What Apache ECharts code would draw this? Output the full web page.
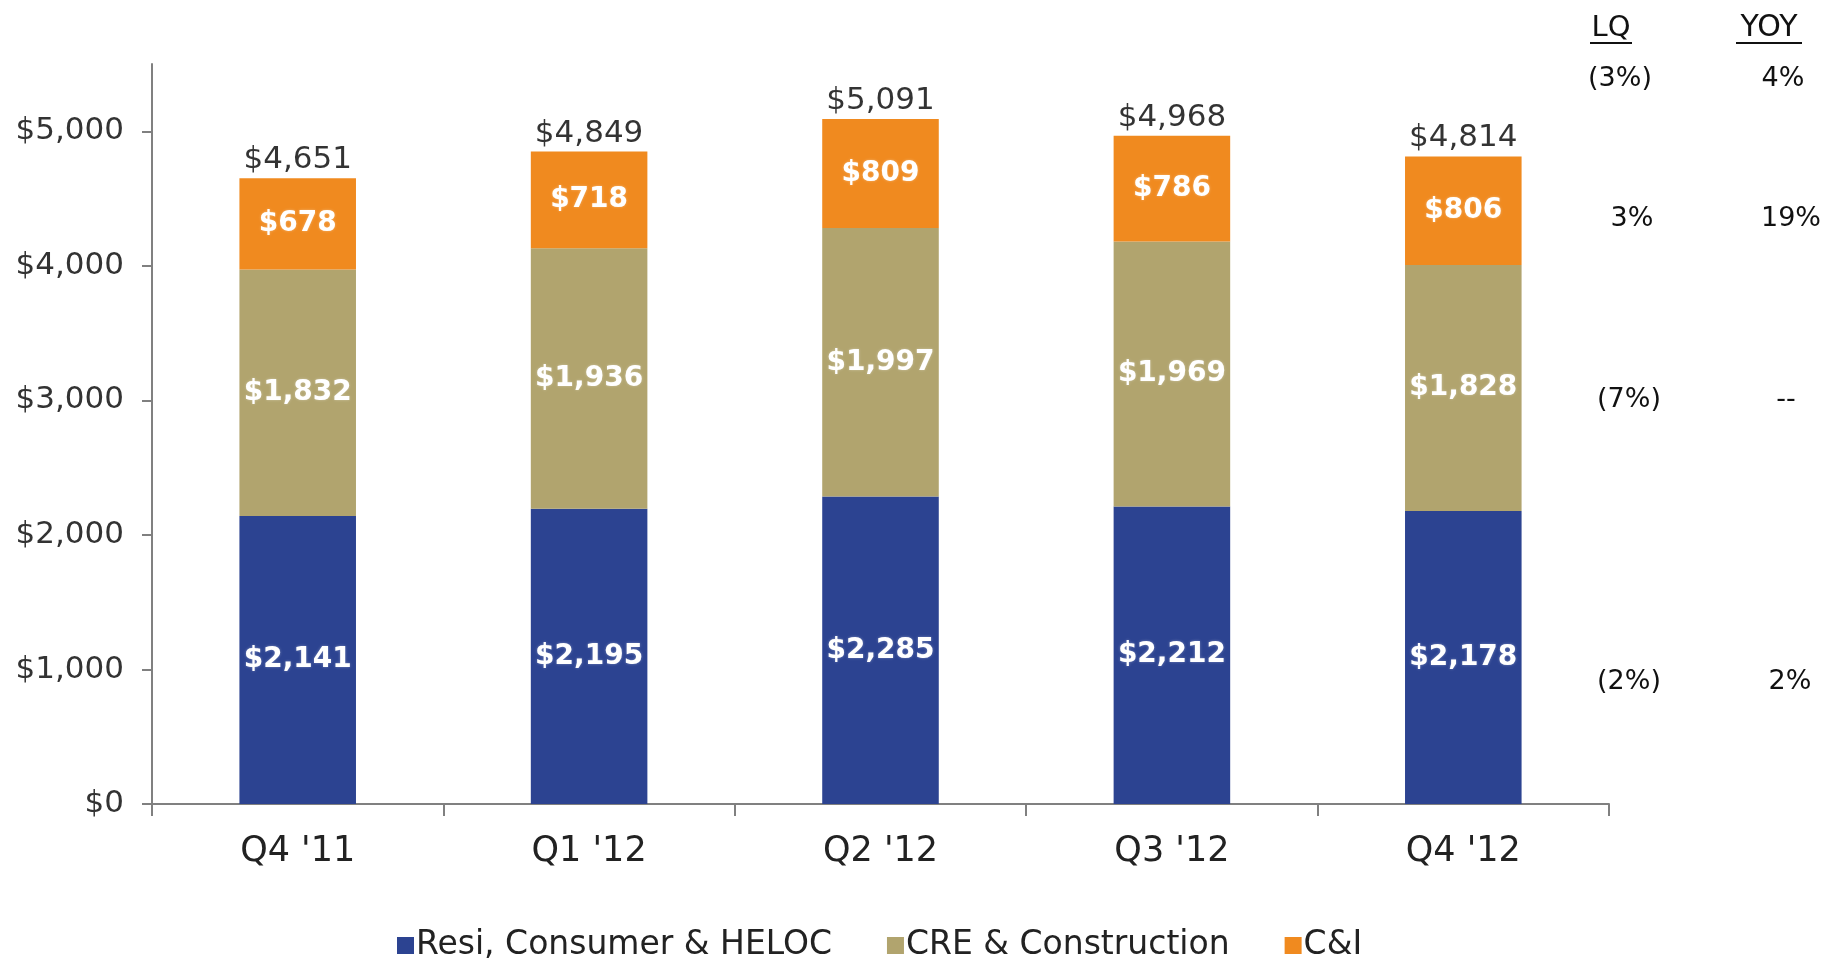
<!DOCTYPE html>
<html>
<head>
<meta charset="utf-8">
<script src="https://cdn.jsdelivr.net/npm/echarts@6/dist/echarts.min.js"></script>
<style>
html,body{margin:0;padding:0;background:#fff;}
#chart{width:1825px;height:960px;}
</style>
</head>
<body>
<div id="chart"></div>
<script>
const categories = ["Q4 '11", "Q1 '12", "Q2 '12", "Q3 '12", "Q4 '12"];
const resiValues = [2141, 2195, 2285, 2212, 2178];
const creValues = [1832, 1936, 1997, 1969, 1828];
const ciValues = [678, 718, 809, 786, 806];
const totalValues = [4651, 4849, 5091, 4968, 4814];
const seriesNames = ['Resi, Consumer & HELOC', 'CRE & Construction', 'C&I'];
const yTickValues = [0, 1000, 2000, 3000, 4000, 5000];
const lqLabels = ['(3%)', '3%', '(7%)', '(2%)'];
const yoyLabels = ['4%', '19%', '--', '2%'];

const FONT = '"DejaVu Sans", Verdana, sans-serif';
const colors = ['#2C4391', '#B1A46E', '#F08A1F'];
const fmt = v => '$' + v.toLocaleString('en-US');

const chart = echarts.init(document.getElementById('chart'));

const innerLabel = {
  show: true,
  position: 'inside',
  color: '#fff',
  fontFamily: FONT,
  fontSize: 28,
  fontWeight: 'bold',
  textShadowColor: 'rgba(255,255,255,0.35)',
  textShadowBlur: 3,
  formatter: p => fmt(p.value)
};

// annotation layout (positions only)
const lqX = [1620, 1632, 1629, 1629];
const yoyX = [1783, 1791, 1786, 1790];
const rowY = [79, 219, 400, 682];
const annFont = '27px ' + FONT;

const graphics = [
  {type: 'text', x: 1611, y: 28, style: {text: 'LQ', font: '29px ' + FONT, fill: '#111', align: 'center', verticalAlign: 'middle'}},
  {type: 'line', shape: {x1: 1590, y1: 43, x2: 1632, y2: 43}, style: {stroke: '#111', lineWidth: 2}},
  {type: 'text', x: 1769, y: 28, style: {text: 'YOY', font: '30px ' + FONT, fill: '#111', align: 'center', verticalAlign: 'middle'}},
  {type: 'line', shape: {x1: 1736, y1: 43, x2: 1802, y2: 43}, style: {stroke: '#111', lineWidth: 2}}
];
lqLabels.forEach((t, i) => graphics.push({type: 'text', x: lqX[i], y: rowY[i], style: {text: t, font: annFont, fill: '#111', align: 'center', verticalAlign: 'middle'}}));
yoyLabels.forEach((t, i) => graphics.push({type: 'text', x: yoyX[i], y: rowY[i], style: {text: t, font: annFont, fill: '#111', align: 'center', verticalAlign: 'middle'}}));

const option = {
  backgroundColor: '#fff',
  animation: false,
  grid: {left: 152, right: 216, top: 64, bottom: 156, containLabel: false},
  legend: {
    data: seriesNames,
    left: 392,
    top: 924,
    icon: 'rect',
    itemWidth: 17,
    itemHeight: 17,
    itemGap: 55,
    textStyle: {fontFamily: FONT, fontSize: 33, color: '#222', padding: [0, 0, 0, -3]}
  },
  xAxis: {
    type: 'category',
    data: categories,
    axisLine: {lineStyle: {color: '#808080', width: 2}},
    axisTick: {show: true, length: 12, lineStyle: {color: '#808080', width: 2}},
    axisLabel: {fontFamily: FONT, fontSize: 35, color: '#222', margin: 30}
  },
  yAxis: {
    type: 'value',
    min: 0,
    max: 5500,
    interval: 1000,
    splitLine: {show: false},
    axisLine: {show: true, lineStyle: {color: '#808080', width: 2}},
    axisTick: {show: true, length: 10, lineStyle: {color: '#808080', width: 2}, customValues: yTickValues},
    axisLabel: {fontFamily: FONT, fontSize: 31, color: '#333', margin: 28, customValues: yTickValues, formatter: v => fmt(v)}
  },
  graphic: graphics,
  series: [
    {name: seriesNames[0], type: 'bar', stack: 'loans', barWidth: '40%', data: resiValues, itemStyle: {color: colors[0]}, label: innerLabel},
    {name: seriesNames[1], type: 'bar', stack: 'loans', barWidth: '40%', data: creValues, itemStyle: {color: colors[1]}, label: innerLabel},
    {name: seriesNames[2], type: 'bar', stack: 'loans', barWidth: '40%', data: ciValues, itemStyle: {color: colors[2]}, label: innerLabel},
    {
      name: 'Total', type: 'scatter', data: totalValues, symbolSize: 1, itemStyle: {color: 'rgba(0,0,0,0)'},
      label: {show: true, position: 'top', distance: 2, color: '#000', fontFamily: FONT, fontSize: 31, formatter: p => fmt(p.value)},
      silent: true, z: 5
    }
  ]
};
chart.setOption(option);
</script>
</body>
</html>
